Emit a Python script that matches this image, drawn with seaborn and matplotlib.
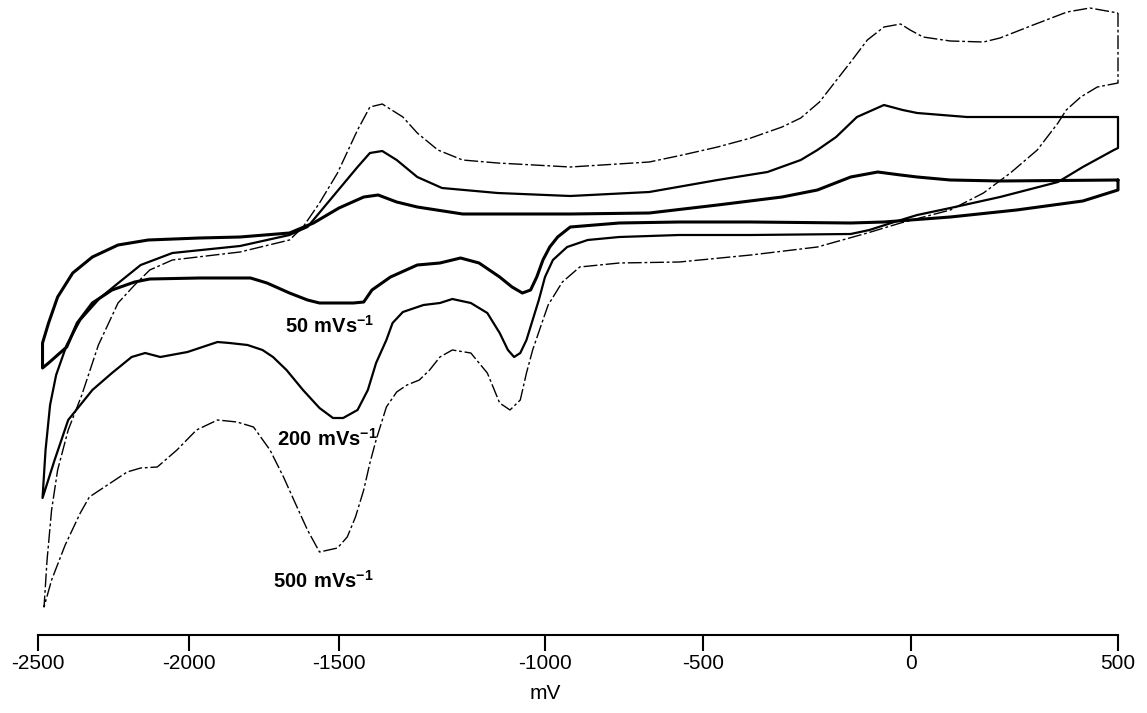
import numpy as np
import pandas as pd
import matplotlib
matplotlib.use('Agg')
import matplotlib.pyplot as plt
import seaborn as sns

########################### DATA ###################################################
# potentials in mV, currents in arbitrary units
# each loop: +500 vertex -> cathodic sweep -> -2500 vertex -> anodic sweep back

pot_50 = [500, 500, 415, 255, 95, -65, -145, -385, -575, -765, -920, -960, -985, -1005,
          -1020, -1035, -1055, -1080, -1110, -1160, -1205, -1255, -1310, -1375, -1420,
          -1440, -1465, -1565, -1605, -1665, -1740, -1795, -1965, -2130, -2180, -2255,
          -2320, -2370, -2405, -2435, -2465, -2485,
          -2485, -2465, -2435, -2385, -2320, -2235, -2135, -1965, -1830, -1665, -1585,
          -1500, -1440, -1405, -1360, -1310, -1200, -920, -670, -465, -310, -225, -145,
          -80, -25, 15, 95, 215, 500]
cur_50 = [4.0, 3.0, 1.9, 1.0, 0.3, -0.2, -0.3, -0.2, -0.2, -0.3, -0.7, -1.7, -2.7, -4.0,
          -5.7, -7.0, -7.3, -6.7, -5.7, -4.3, -3.8, -4.3, -4.5, -5.7, -7.0,
          -8.2, -8.3, -8.3, -8.0, -7.3, -6.3, -5.8, -5.8, -5.9, -6.2, -7.0,
          -8.3, -10.3, -12.7, -13.5, -14.3, -14.8,
          -12.3, -10.3, -7.7, -5.3, -3.7, -2.5, -2.0, -1.8, -1.7, -1.3, -0.3,
          1.2, 2.3, 2.5, 1.8, 1.3, 0.6, 0.6, 0.7, 1.5, 2.3, 3.0, 4.3,
          4.8, 4.5, 4.3, 4.0, 3.9, 4.0]

pot_200 = [500, 500, 490, 415, 355, 215, 95, 15, -40, -100, -145, -385, -575, -765, -865,
           -930, -975, -1000, -1015, -1030, -1045, -1060, -1075, -1090, -1110, -1140,
           -1180, -1225, -1255, -1295, -1345, -1370, -1385, -1410, -1430, -1455, -1490,
           -1520, -1565, -1620, -1675, -1720, -1755, -1805, -1865, -1905, -2005, -2095,
           -2145, -2190, -2255, -2320, -2400, -2445, -2485,
           -2475, -2460, -2440, -2405, -2360, -2295, -2230, -2160, -2055, -1830, -1665,
           -1605, -1530, -1455, -1425, -1395, -1360, -1310, -1250, -1115, -920, -670,
           -465, -345, -265, -225, -180, -130, -65, -20, 15, 135, 335, 500]
cur_200 = [10.3, 7.2, 7.0, 5.3, 3.8, 2.3, 1.2, 0.5, -0.2, -1.0, -1.4, -1.5, -1.5, -1.7, -2.0,
           -2.7, -4.0, -5.7, -8.0, -10.0, -12.0, -13.3, -13.7, -13.0, -11.3, -9.3,
           -8.3, -7.9, -8.3, -8.5, -9.2, -10.3, -12.0, -14.3, -17.0, -19.0, -19.8,
           -19.8, -18.8, -17.0, -15.0, -13.7, -13.0, -12.5, -12.3, -12.2, -13.2, -13.7,
           -13.3, -13.7, -15.3, -17.0, -20.0, -24.0, -27.8,
           -23.0, -18.5, -15.5, -12.5, -10.0, -7.8, -6.2, -4.5, -3.3, -2.6, -1.5,
           -0.7, 2.0, 5.3, 6.7, 6.9, 6.0, 4.3, 3.2, 2.7, 2.4, 2.8,
           4.0, 4.8, 6.0, 7.0, 8.3, 10.3, 11.5, 11.0, 10.7, 10.3, 10.3, 10.3]

pot_500 = [500, 500, 450, 410, 375, 355, 305, 240, 175, 95, -25, -105, -225, -385, -575,
           -765, -890, -945, -990, -1005, -1030, -1045, -1060, -1085, -1110, -1140,
           -1180, -1225, -1255, -1280, -1305, -1335, -1360, -1385, -1410, -1425, -1440,
           -1460, -1480, -1505, -1565, -1605, -1640, -1685, -1730, -1785, -1840, -1905,
           -1975, -2040, -2105, -2160, -2205, -2260, -2330, -2360, -2410, -2455, -2480,
           -2470, -2455, -2435, -2400, -2355, -2300, -2235, -2180, -2130, -2055, -1830,
           -1665, -1620, -1565, -1505, -1455, -1425, -1395, -1345, -1310, -1260, -1200,
           -1115, -920, -670, -565, -465, -385, -310, -265, -220, -145, -105, -65, -25,
           -2, 29, 95, 175, 215, 295, 377, 432, 500]
cur_500 = [20.7, 13.7, 13.3, 12.3, 11.0, 9.7, 7.0, 4.7, 2.7, 1.0, -0.3, -1.3, -2.7, -3.5, -4.2,
           -4.3, -4.7, -6.2, -8.5, -10.0, -13.0, -15.3, -18.0, -19.0, -18.3, -15.3,
           -13.3, -13.0, -13.7, -15.0, -16.0, -16.5, -17.2, -18.7, -22.0, -24.3, -27.0,
           -29.7, -31.7, -32.8, -33.2, -31.0, -28.7, -25.7, -23.0, -20.7, -20.2, -20.0,
           -21.0, -23.0, -24.7, -24.8, -25.2, -26.3, -27.7, -29.3, -32.5, -36.0, -38.7,
           -34.0, -29.0, -25.0, -21.0, -17.5, -12.5, -8.3, -6.5, -5.0, -4.0, -3.2,
           -2.0, -0.7, 1.7, 4.7, 9.0, 11.3, 11.6, 10.3, 8.7, 7.0, 6.0,
           5.7, 5.3, 5.8, 6.5, 7.3, 8.2, 9.3, 10.2, 11.8, 15.8, 18.0, 19.3, 19.6,
           19.0, 18.3, 17.9, 17.8, 18.2, 19.5, 20.8, 21.2, 20.7]

rate_labels = ['50 mVs', '200 mVs', '500 mVs']
label_pot = [-1680, -1707, -1720]
label_cur = [-11.3, -22.6, -36.8]

# the printed potential axis is not evenly spaced
tick_mv = [-2500, -2000, -1500, -1000, -500, 0, 500]
tick_pos = [38, 189, 339, 545, 703, 911, 1118]

########################### PLOT ###################################################

sns.set_style('white')
plt.rcParams['font.family'] = ['Liberation Sans', 'DejaVu Sans']
plt.rcParams['mathtext.fontset'] = 'custom'
plt.rcParams['mathtext.rm'] = 'Liberation Sans'
plt.rcParams['mathtext.bf'] = 'Liberation Sans:bold'
plt.rcParams['text.color'] = 'black'

fig = plt.figure(figsize=(11.47, 7.13), dpi=100)
ax = fig.add_axes([38 / 1147, 78 / 713, 1080 / 1147, 635 / 713])

df_50 = pd.DataFrame({'potential': pot_50, 'current': cur_50})
df_200 = pd.DataFrame({'potential': pot_200, 'current': cur_200})
df_500 = pd.DataFrame({'potential': pot_500, 'current': cur_500})

sns.lineplot(data=df_50, x='potential', y='current', sort=False, estimator=None,
             color='black', linewidth=2.2, solid_joinstyle='round', ax=ax)
sns.lineplot(data=df_200, x='potential', y='current', sort=False, estimator=None,
             color='black', linewidth=1.6, solid_joinstyle='round', ax=ax)
sns.lineplot(data=df_500, x='potential', y='current', sort=False, estimator=None,
             color='black', linewidth=1.0, linestyle=(0, (10, 2, 2, 2)), ax=ax)
for ln in ax.lines:
    ln.set_clip_on(False)


def fwd(v):
    return np.interp(v, tick_mv, tick_pos)


def inv(p):
    return np.interp(p, tick_pos, tick_mv)


ax.set_xscale('function', functions=(fwd, inv))
ax.set_xlim(-2500, 500)
ax.set_ylim(-41.5, 22.0)

for txt, xx, yy in zip(rate_labels, label_pot, label_cur):
    ax.text(xx, yy, r'$\mathbf{' + txt.replace(' ', r'\ ') + r'}^{\mathbf{-1}}$',
            ha='left', va='baseline', fontsize=14.5, color='black')

ax.set_xticks(tick_mv)
ax.set_xticklabels([str(v) for v in tick_mv])
ax.set_yticks([])
ax.tick_params(axis='x', bottom=True, direction='out', length=11.5, width=1.5,
               labelsize=15, pad=2, color='black', labelcolor='black')
ax.set_xlabel('mV', fontsize=15, color='black')
ax.xaxis.set_label_coords((545 - 38) / 1080, -0.077)
ax.set_ylabel('')

sns.despine(ax=ax, left=True)
ax.spines['bottom'].set_linewidth(1.5)
ax.spines['bottom'].set_color('black')

fig.savefig('out.png', dpi=100)
